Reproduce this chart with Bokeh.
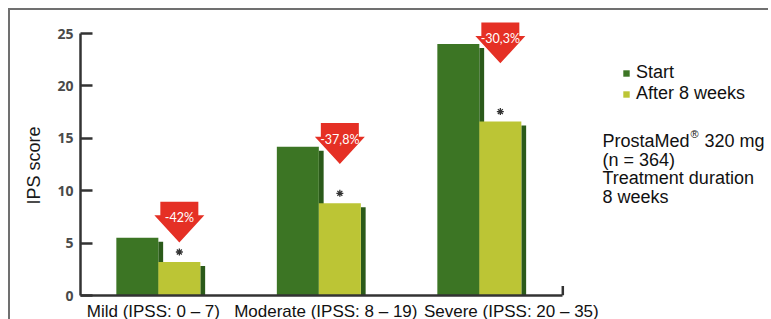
from bokeh.plotting import figure
from bokeh.models import FixedTicker, Legend, LegendItem, Label, Title
from bokeh.embed import file_html
from bokeh.resources import INLINE
from bokeh.core.properties import value

# ---------------- data ----------------
groups = [1, 2, 3]
categories = ["Mild (IPSS: 0 – 7)", "Moderate (IPSS: 8 – 19)", "Severe (IPSS: 20 – 35)"]
start = [5.5, 14.2, 24.0]
after = [3.2, 8.8, 16.6]
change_labels = ["-42%", "-37,8%", "-30,3%"]
arrow_tip = [5.05, 12.55, 22.15]
y_ticks = [0, 5, 10, 15, 20, 25]
y_title = "IPS score"
series_names = ["Start", "After 8 weeks"]
product_name = "ProstaMed"
product_dose = "320 mg"
note_lines = ["(n = 364)", "Treatment duration", "8 weeks"]

# ---------------- layout / style ----------------
PX_X = 160.5          # pixels per x unit
PX_Y = 10.48          # pixels per y unit
FRAME_W, FRAME_H = 688, 285
X0 = 0.515
X1 = X0 + FRAME_W / PX_X
Y1 = FRAME_H / PX_Y
AXIS_END = 3.52
LABEL_SHIFT_PX = [-5, 7, 32]   # category labels are packed side by side
TITLE_PAD = "\u00a0" * 5       # nudges the y title below the frame centre

C_START = "#3c7524"
C_AFTER = "#bcc535"
C_SHADOW = "#2b5a1a"
C_RED = "#e53025"
C_AXIS = "#333333"
FONT = "Liberation Sans"

BW = 42 / PX_X
SW = 4.8 / PX_X
DROP = 0.38

def xd(px):
    return X0 + (px - 80) / PX_X

def yd(py):
    return (295 - py) / PX_Y

p = figure(frame_width=FRAME_W, frame_height=FRAME_H,
           x_range=(X0, X1), y_range=(0, Y1),
           output_backend="svg", toolbar_location=None,
           min_border_left=70, min_border_top=0, min_border_right=0, min_border_bottom=0)
p.styles = {"margin-left": "8px", "margin-top": "8px",
            "border-top": "2px solid #707070", "border-left": "2px solid #707070"}
p.outline_line_color = None
p.grid.grid_line_color = None
p.background_fill_color = "white"

# bars
start_x = [g - BW / 2 for g in groups]
after_x = [g + BW / 2 for g in groups]
p.vbar(x=[g + SW / 2 for g in groups], width=SW, top=[s - DROP for s in start],
       bottom=0, fill_color=C_SHADOW, line_color=None)
r_start = p.vbar(x=start_x, width=BW, top=start, bottom=0, fill_color=C_START, line_color=None)
p.vbar(x=[g + BW + SW / 2 for g in groups], width=SW, top=[a - DROP for a in after],
       bottom=0, fill_color=C_SHADOW, line_color=None)
r_after = p.vbar(x=after_x, width=BW, top=after, bottom=0, fill_color=C_AFTER, line_color=None)

# red arrows
RW = 19 / PX_X
WW = 25 / PX_X
xs, ys = [], []
for cx, tip in zip(after_x, arrow_tip):
    top = tip + 3.9
    wing = tip + 2.6
    xs.append([cx - RW, cx + RW, cx + RW, cx + WW, cx, cx - WW, cx - RW])
    ys.append([top, top, wing, wing, tip, wing, wing])
p.patches(xs=xs, ys=ys, fill_color=C_RED, line_color=None)
p.text(x=after_x, y=[t + 2.35 for t in arrow_tip], text=change_labels,
       text_align="center", text_baseline="middle", text_color="white",
       text_font=value("Lato"), text_font_size="12.5px")

# asterisks
p.scatter(x=after_x, y=[a + 0.95 for a in after], marker="asterisk", size=7,
          line_color=C_AXIS, line_width=1.3)

# end tick of x axis
p.segment(x0=[AXIS_END], y0=[0], x1=[AXIS_END], y1=[0.9], line_color=C_AXIS, line_width=2.5)

# axes
label_pos = [g + s / PX_X for g, s in zip(groups, LABEL_SHIFT_PX)]
xa = p.xaxis[0]
xa.ticker = FixedTicker(ticks=label_pos)
xa.major_label_overrides = {t: c for t, c in zip(label_pos, categories)}
xa.bounds = (X0, AXIS_END)
xa.axis_line_width = 2.5
xa.axis_line_color = C_AXIS
xa.major_tick_line_color = None
xa.minor_tick_line_color = None
xa.major_label_standoff = 0
xa.major_label_text_font = FONT
xa.major_label_text_font_size = "17px"
xa.major_label_text_color = "#111111"

ya = p.yaxis[0]
ya.ticker = FixedTicker(ticks=y_ticks)
ya.bounds = (0, 25)
ya.axis_line_width = 2.5
ya.axis_line_color = C_AXIS
ya.major_tick_in = 12
ya.major_tick_out = 0
ya.major_tick_line_width = 2.5
ya.major_tick_line_color = C_AXIS
ya.minor_tick_line_color = None
ya.major_label_standoff = 7
ya.major_label_text_font = "Open Sans"
ya.major_label_text_font_style = "bold"
ya.major_label_text_font_size = "14px"
ya.major_label_text_color = "#4a4a4a"

# y-axis title
p.add_layout(Title(text=y_title + TITLE_PAD, align="center", standoff=22,
                   text_font=FONT, text_font_style="normal", text_font_size="18px",
                   text_color="#1a1a1a"), "left")

# legend
legend = Legend(items=[LegendItem(label=series_names[0], renderers=[r_start]),
                       LegendItem(label=series_names[1], renderers=[r_after])],
                location=(542, 191), orientation="vertical",
                glyph_width=8, glyph_height=8, label_standoff=6,
                label_text_font=FONT, label_text_font_size="18px",
                label_text_color="#111111", label_height=19, spacing=0,
                padding=0, margin=0, border_line_color=None,
                background_fill_color=None)
legend.label_text_line_height = 1.05
p.add_layout(legend, "center")

# side note
TXT = dict(text_font=FONT, text_font_size="18px", text_color="#111111",
           text_baseline="alphabetic")
B0 = 140.5
p.add_layout(Label(x=xd(602), y=yd(B0), text=product_name, **TXT))
p.add_layout(Label(x=xd(690), y=yd(B0 - 7.5), text="®", text_font=FONT, text_font_size="11px",
                   text_color="#111111", text_baseline="alphabetic"))
p.add_layout(Label(x=xd(704), y=yd(B0), text=product_dose, **TXT))
for i, line in enumerate(note_lines):
    p.add_layout(Label(x=xd(602), y=yd(B0 + 18.7 * (i + 1)), text=line, **TXT))

open("out.html", "w").write(file_html(p, INLINE))
